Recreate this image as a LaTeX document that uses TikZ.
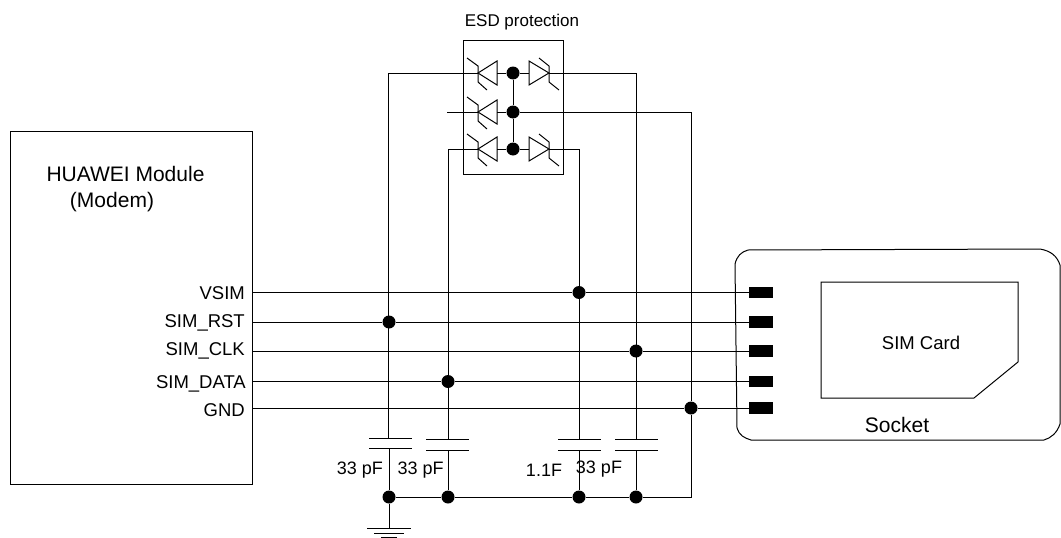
\documentclass[tikz,border=0pt]{standalone}
\usepackage{fontspec}
\setmainfont{Liberation Sans}
\usetikzlibrary{positioning}
\tikzset{
    wire/.style = {line width=1pt},
    dot/.style = {circle, fill, inner sep=0pt, minimum size=13pt},
    pad/.style = {fill, inner sep=0pt, minimum width=24pt, minimum height=11.5pt},
    lbl/.style = {inner sep=0pt, anchor=base, font=\fontsize{18.5}{20}\selectfont},
    biglbl/.style = {lbl, font=\fontsize{21}{23}\selectfont},
    caplbl/.style = {lbl, font=\fontsize{18}{20}\selectfont},
    pinlbl/.style = {lbl, anchor=base east},
    zenerl/.pic = {
      \draw[wire] (19,-12) -- (19,12) -- (0,0) -- cycle;
      \draw[wire] (-11,-15) -- (0,-7) -- (0,9) -- (9,17);
    },
    zenerr/.pic = {
      \draw[wire] (-20,-12) -- (-20,12) -- (0,0) -- cycle;
      \draw[wire] (-10,-15) -- (0,-7) -- (0,9) -- (10,17);
    }
}
\begin{document}
\begin{tikzpicture}[x=1pt,y=-1pt]
  \useasboundingbox (0,0) rectangle (1061,538);

  % module
  \node (modem) [draw, wire, minimum width=242pt, minimum height=353pt, inner sep=0pt] at (131,307.5) {};
  \node (name) [biglbl] at (125.5,181.5) {HUAWEI Module};
  \node (sub) [biglbl] at (112,207) {(Modem)};
  \node (vsimlbl) [pinlbl] at (245,299) {VSIM};
  \node (rstlbl) [pinlbl] at (245,327) {SIM\_RST};
  \node (clklbl) [pinlbl] at (245,355) {SIM\_CLK};
  \node (datalbl) [pinlbl] at (246,388) {SIM\_DATA};
  \node (gndlbl) [pinlbl] at (245,416) {GND};

  % socket and card
  \draw[wire] (735,264) .. controls (737,256) and (741,252) .. (748,250)
    -- (1040,249) .. controls (1051,251) and (1057,256) .. (1060,265)
    -- (1060,424) .. controls (1057,433) and (1051,438) .. (1044,440)
    -- (751,440) .. controls (744,438) and (739,435) .. (737,428) -- cycle;
  \draw[wire] (821,282) -- (1018,282) -- (1018,362) -- (974,398) -- (821,398) -- cycle;
  \node (card) [lbl] at (921,349) {SIM Card};
  \node (socket) [biglbl] at (897,432) {Socket};
  \node (p1) [pad] at (761,292.5) {};
  \node (p2) [pad] at (761,322) {};
  \node (p3) [pad] at (761,351) {};
  \node (p4) [pad] at (761,381.5) {};
  \node (p5) [pad] at (761,408) {};

  % ESD block
  \node (esd) [draw, wire, minimum width=100pt, minimum height=134pt, inner sep=0pt] at (513,107) {};
  \node (esdlbl) [lbl, font=\fontsize{17}{19}\selectfont] at (522,27) {ESD protection};
  \node (e1) [dot] at (513,73) {};
  \node (e2) [dot] at (513,112) {};
  \node (e3) [dot] at (513,149) {};
  \pic at (478,73) {zenerl};
  \pic at (478,112) {zenerl};
  \pic at (478,149) {zenerl};
  \pic at (549,73) {zenerr};
  \pic at (549,149) {zenerr};
  \draw[wire] (e1) -- (e2);
  \draw[wire] (e2) -- (e3);

  % junctions on the signal lines
  \node (j1) [dot] at (579,292.5) {};
  \node (j2) [dot] at (389,322) {};
  \node (j3) [dot] at (636,351) {};
  \node (j4) [dot] at (448,381.5) {};
  \node (j5) [dot] at (691,408) {};

  \draw[wire] (252,292.5) -- (j1) -- (p1);
  \draw[wire] (252,322) -- (j2) -- (p2);
  \draw[wire] (252,351) -- (j3) -- (p3);
  \draw[wire] (252,381.5) -- (j4) -- (p4);
  \draw[wire] (252,408) -- (j5) -- (p5);

  % bottom rail
  \node (b1) [dot] at (389,497) {};
  \node (b2) [dot] at (448,497) {};
  \node (b3) [dot] at (579,497) {};
  \node (b4) [dot] at (636,497) {};
  \draw[wire] (b1) -- (b2) -- (b3) -- (b4) -- (691,497) -- (j5);

  % from ESD to the lines
  \draw[wire] (e1) -- (497,73);
  \draw[wire] (e1) -- (529,73);
  \draw[wire] (e3) -- (497,149);
  \draw[wire] (e3) -- (529,149);
  \draw[wire] (e2) -- (497,112);
  \draw[wire] (478,73) -- (388.5,73) -- (388.5,438);
  \draw[wire] (478,112) -- (447,112);
  \draw[wire] (478,149) -- (448,149) -- (448,439.5);
  \draw[wire] (549,149) -- (579,149) -- (579,439.5);
  \draw[wire] (549,73) -- (636,73) -- (636,439.5);
  \draw[wire] (e2) -- (691,112) -- (j5);

  % capacitors
  \draw[wire] (369,438) -- (412,438) (369,448.5) -- (412,448.5);
  \draw[wire] (426,439.5) -- (469,439.5) (426,450) -- (469,450);
  \draw[wire] (558,439.5) -- (601,439.5) (558,450) -- (601,450);
  \draw[wire] (615,439.5) -- (658,439.5) (615,450) -- (658,450);
  \draw[wire] (389,448.5) -- (b1);
  \draw[wire] (448,450) -- (b2);
  \draw[wire] (579,450) -- (b3);
  \draw[wire] (636,450) -- (b4);
  \node (c1) [caplbl] at (360,474) {33 pF};
  \node (c2) [caplbl] at (420.7,474) {33 pF};
  \node (c3) [caplbl] at (544,476) {1.1F};
  \node (c4) [caplbl] at (599,473) {33 pF};

  % ground
  \draw[wire] (b1) -- (389,528.5);
  \draw[wire] (367,528.5) -- (411,528.5) (374,533) -- (404,533) (381,537) -- (397,537);
\end{tikzpicture}
\end{document}
